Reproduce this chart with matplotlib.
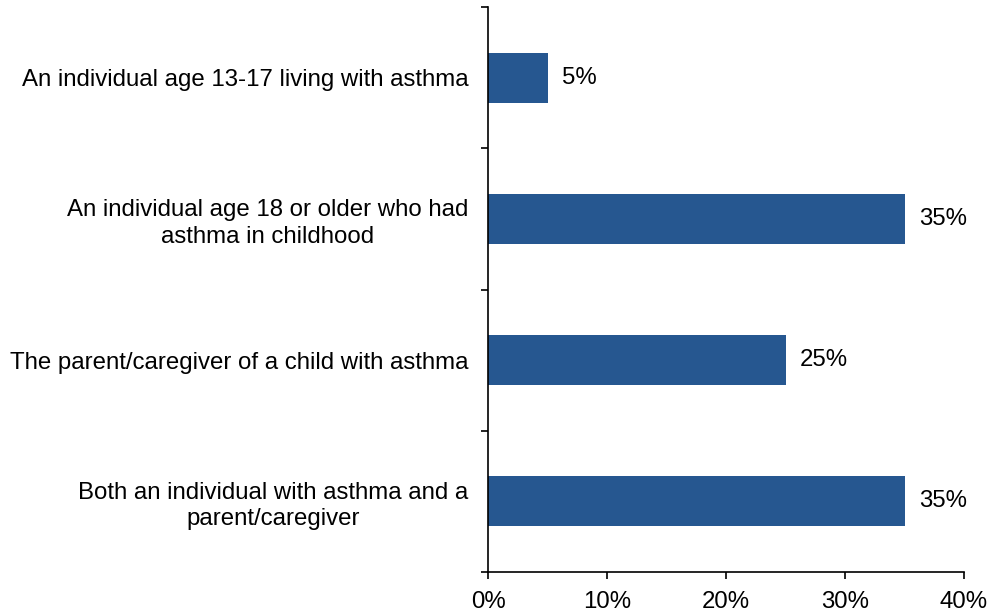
import matplotlib.pyplot as plt
from matplotlib.ticker import FixedLocator

plt.rcParams['font.family'] = ['Liberation Sans', 'DejaVu Sans']

# Data
categories = [
    "An individual age 13-17 living with asthma",
    "An individual age 18 or older who had\nasthma in childhood",
    "The parent/caregiver of a child with asthma",
    "Both an individual with asthma and a\nparent/caregiver",
]
values = [5, 35, 25, 35]
xticks = [0, 10, 20, 30, 40]
xtick_labels = ["0%", "10%", "20%", "30%", "40%"]

bar_color = "#265790"
fs = 17.3

fig = plt.figure(figsize=(9.93, 6.15), dpi=100)
ax = fig.add_axes([488 / 993, 1 - 572 / 615, (964 - 488) / 993, (572 - 7) / 615])

ypos = list(range(len(categories)))
ax.barh(ypos, values, height=0.355, color=bar_color, zorder=2)

for y, v in zip(ypos, values):
    ax.text(v + 1.2, y, f"{v}%", va="center", ha="left", fontsize=fs)

ax.set_xlim(0, 40)
ax.set_ylim(len(categories) - 0.5, -0.5)

ax.set_xticks(xticks)
ax.set_xticklabels(xtick_labels, fontsize=fs)

ax.set_yticks(ypos)
ax.set_yticklabels(categories, fontsize=fs, ha="right", multialignment="center",
                   linespacing=1.25)
ax.tick_params(axis="y", which="major", length=0, pad=14)
ax.yaxis.set_minor_locator(FixedLocator([-0.5, 0.5, 1.5, 2.5, 3.5]))
ax.tick_params(axis="y", which="minor", length=5, width=1.2, color="black")
ax.tick_params(axis="x", length=5, width=1.2, pad=9)

for side in ["top", "right"]:
    ax.spines[side].set_visible(False)
for side in ["left", "bottom"]:
    ax.spines[side].set_linewidth(1.2)

fig.savefig("out.png", dpi=100)
